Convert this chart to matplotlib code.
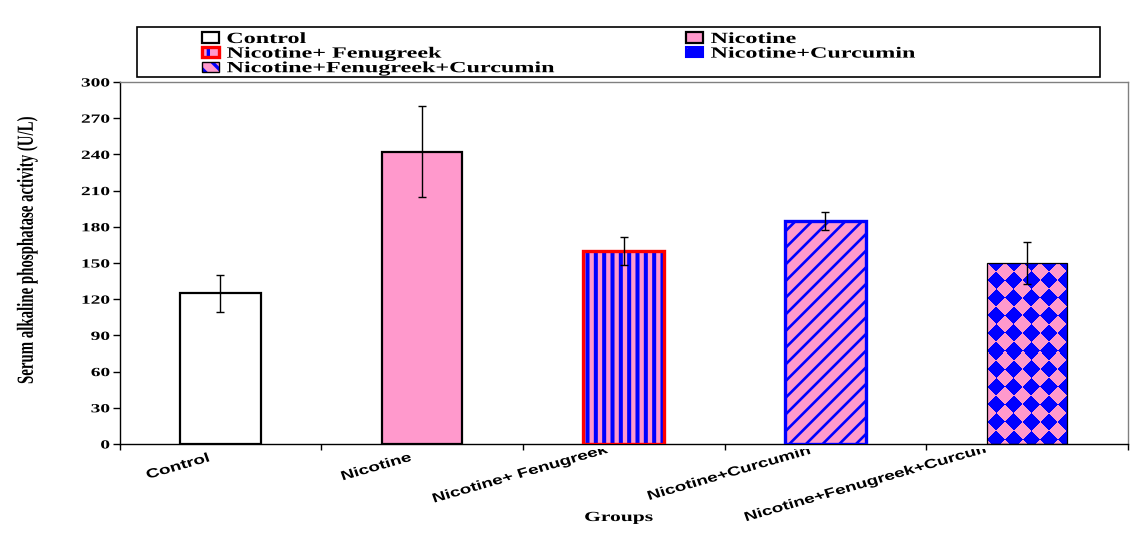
import numpy as np
import matplotlib
matplotlib.use('Agg')
from matplotlib import pyplot as plt
from matplotlib.patches import Rectangle
from matplotlib.patheffects import AbstractPathEffect
from matplotlib.transforms import Affine2D, Bbox, ScaledTranslation, blended_transform_factory

# data
groups = ['Control', 'Nicotine', 'Nicotine+ Fenugreek', 'Nicotine+Curcumin',
          'Nicotine+Fenugreek+Curcumin']
means = [125, 242, 160, 185, 150]
errs = [15.4, 37.7, 11.6, 7.5, 17]
yticks = [0, 30, 60, 90, 120, 150, 180, 210, 240, 270, 300]

pink = '#ff99cc'
blue = '#0000ff'
faces = ['white', pink, pink, pink, pink]
hatches = [None, None, '||', '//', None]
hatch_lw = [0, 0, 2.9, 1.9, 0]
edges = ['black', 'black', 'red', blue, 'black']
edge_lw = [1.6, 1.6, 2.4, 2.4, 0.9]

# the source picture was stretched sideways, so widen every text the same way
SX = 1.55


class Widen(AbstractPathEffect):
    def __init__(self, anchor='left', sx=SX):
        super().__init__()
        self.anchor = anchor
        self.sx = sx

    def draw_path(self, renderer, gc, tpath, affine, rgbFace=None):
        ext = tpath.get_extents()
        lx = {'left': ext.x0, 'center': (ext.x0 + ext.x1) / 2, 'right': ext.x1}[self.anchor]
        px, py = affine.transform((lx, (ext.y0 + ext.y1) / 2))
        st = Affine2D().translate(-px, -py).scale(self.sx, 1).translate(px, py)
        renderer.draw_path(gc, tpath, affine + st, rgbFace)


plt.rcParams['hatch.linewidth'] = 2.4
serif = 'Liberation Serif'

fig = plt.figure(figsize=(11.38, 5.35), dpi=100)
W, H = 1138, 535
ax = fig.add_axes([119.5 / W, 1 - 444 / H, (1128 - 119.5) / W, (444 - 82) / H])

x = np.arange(len(groups))
ax.set_xlim(-0.5, len(groups) - 0.5)
ax.set_ylim(0, 300)

bars = ax.bar(x, means, width=0.4, color=faces, edgecolor=blue, linewidth=0, zorder=2)
for b, h, hl in zip(bars, hatches, hatch_lw):
    if h:
        b.set_hatch(h)
        if hasattr(b, 'set_hatch_linewidth'):
            b.set_hatch_linewidth(hl)

# diamond texture for the last bar, clipped to it
cb = bars[4]
bb = cb.get_window_extent()
wpx, hpx = int(round(bb.width)), int(round(bb.height))
yy, xx = np.mgrid[0:hpx, 0:wpx]
per = 17.6
cell = (np.floor((xx + yy) / per) + np.floor((xx - yy) / per)) % 2 == 0
tex = np.where(cell[..., None], np.array([0, 0, 1.0]), np.array([1.0, 0.6, 0.8]))
im = ax.imshow(tex, extent=(cb.get_x(), cb.get_x() + cb.get_width(), 0, cb.get_height()),
               origin='upper', interpolation='nearest', aspect='auto', zorder=2.5)
im.set_clip_path(cb)

ax.bar(x, means, width=0.4, fill=False, edgecolor=edges, linewidth=edge_lw, zorder=3)
ax.errorbar(x, means, yerr=errs, fmt='none', ecolor='black', elinewidth=1.0,
            capsize=2.8, capthick=1.0, zorder=4)

ax.set_xlim(-0.5, len(groups) - 0.5)
ax.set_ylim(0, 300)

# axes frame
for s in ['top', 'right']:
    ax.spines[s].set_color('#808080')
    ax.spines[s].set_linewidth(1.0)
for s in ['left', 'bottom']:
    ax.spines[s].set_color('black')
    ax.spines[s].set_linewidth(1.0)

ax.set_yticks(yticks)
ax.set_yticklabels([str(v) for v in yticks])
ax.tick_params(axis='y', direction='out', length=5, width=1, pad=2, labelsize=9)
ax.set_xticks(np.arange(len(groups) + 1) - 0.5)
ax.set_xticklabels([])
ax.tick_params(axis='x', direction='out', length=4, width=1)
for lab in ax.get_yticklabels():
    lab.set_fontfamily(serif)
    lab.set_fontweight('bold')
    lab.set_path_effects([Widen('right')])

# rotated category labels, hanging left of each category centre;
# longer ones sit a little higher and all are clipped to a band under the axis
base = blended_transform_factory(ax.transData, ax.transAxes)
cats = []
for i, g in enumerate(groups):
    t = fig.text(i, 0, g, ha='right', va='top', rotation=24,
                 rotation_mode='anchor', fontsize=9, fontfamily='Liberation Sans',
                 fontweight='bold', fontstyle='italic')
    t.set_path_effects([Widen('right')])
    t.set_clip_on(True)
    t.set_clip_box(Bbox.from_extents(0, 0, 988, H - 449))
    cats.append(t)
renderer = fig.canvas.get_renderer()
for t in cats:
    extra = max(t.get_window_extent(renderer).width * SX - 63, 0)
    t.set_transform(base + ScaledTranslation((-13 - 0.045 * extra) / 100,
                                             (-9 + 0.075 * extra) / 100,
                                             fig.dpi_scale_trans))

yl = ax.set_ylabel('Serum alkaline phosphatase activity (U/L)', fontfamily=serif,
                   fontweight='bold', fontsize=10.7)
ax.yaxis.set_label_coords((34 - 119.5) / (1128 - 119.5), (444 - 250) / 362)
yl.set_path_effects([Widen('center')])
xl = ax.set_xlabel('Groups', fontfamily=serif, fontweight='bold', fontsize=10)
ax.xaxis.set_label_coords(0.495, (444 - 511) / 362)
xl.set_va('top')
xl.set_path_effects([Widen('center')])

# legend: outer box plus two columns
fig.patches.append(Rectangle((137 / W, 1 - 77 / H), (1100 - 137) / W, 50 / H,
                             transform=fig.transFigure, fill=False,
                             edgecolor='black', linewidth=1.2))


def proxy(face, edge, lw, hatch=None, hcol=None):
    if hatch is None:
        return Rectangle((0, 0), 1, 1, facecolor=face, edgecolor=edge, linewidth=lw)
    inner = Rectangle((0, 0), 1, 1, facecolor=face, edgecolor=hcol, linewidth=0, hatch=hatch)
    outer = Rectangle((0, 0), 1, 1, fill=False, edgecolor=edge, linewidth=lw)
    return (inner, outer)


handles = [proxy('white', 'black', 1.6), proxy(pink, 'black', 1.6),
           proxy(pink, 'red', 2.4, '|', blue), proxy(blue, blue, 1.5, '/', pink),
           proxy(pink, 'black', 1.0, '\\\\', blue)]

leg_kw = dict(frameon=False, loc='upper left', bbox_transform=fig.transFigure,
              borderpad=0, borderaxespad=0, handlelength=1.09, handleheight=0.62,
              handletextpad=0.5, labelspacing=-0.09,
              prop={'family': serif, 'weight': 'bold', 'size': 11.2})
leg1 = fig.legend([handles[i] for i in (0, 2, 4)], [groups[i] for i in (0, 2, 4)],
                  bbox_to_anchor=(202 / W, 1 - 31 / H), **leg_kw)
leg2 = fig.legend([handles[i] for i in (1, 3)], [groups[i] for i in (1, 3)],
                  bbox_to_anchor=(686 / W, 1 - 31 / H), **leg_kw)
for lg in (leg1, leg2):
    for t in lg.get_texts():
        t.set_path_effects([Widen('left')])

fig.savefig('out.png', dpi=100)
